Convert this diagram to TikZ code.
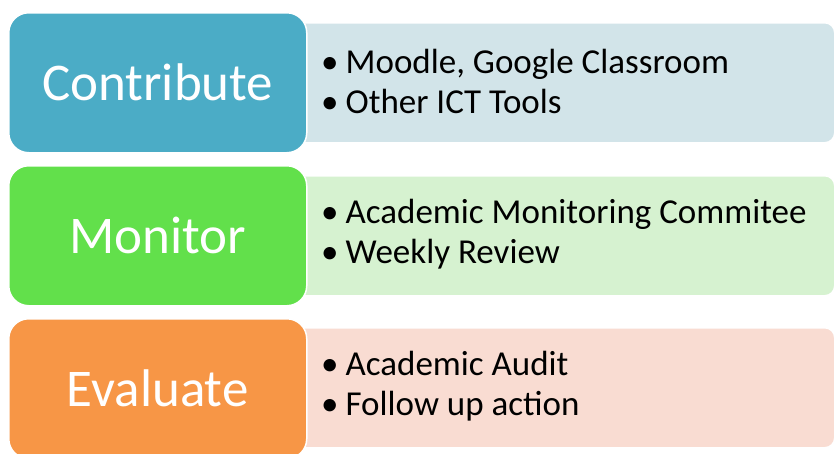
\documentclass[tikz,border=0pt]{standalone}
\usepackage{fontspec}
\setmainfont{Carlito}
\definecolor{cblue}{HTML}{4BACC6}
\definecolor{cgreen}{HTML}{62E04B}
\definecolor{corange}{HTML}{F79646}
\definecolor{lblue}{HTML}{D2E4E9}
\definecolor{lgreen}{HTML}{D6F2D0}
\definecolor{lorange}{HTML}{F9DCD2}
\begin{document}
\begin{tikzpicture}[x=1pt,y=-1pt,
  mainbox/.style={draw=white, line width=1.5pt, rounded corners=20pt, minimum width=298pt, minimum height=140pt, inner sep=0pt, anchor=north west, font=\fontsize{53}{53}\selectfont, text=white},
  listbox/.style={draw=white, line width=1.5pt, rounded corners=10pt, minimum width=556pt, minimum height=120pt, inner sep=0pt, anchor=north west},
  listtext/.style={anchor=west, align=left, inner sep=0pt, font=\fontsize{35}{40}\selectfont, text=black}]
\useasboundingbox (0,0) rectangle (836,453);
\fill[white] (0,0) rectangle (836,453);
% light boxes
\node[listbox, fill=lblue] (l1) at (278,22) {};
\node[listbox, fill=lgreen] (l2) at (278,175) {};
\node[listbox, fill=lorange] (l3) at (278,327) {};
% main boxes
\node[mainbox, fill=cblue] (m1) at (8,12) {Contribute};
\node[mainbox, fill=cgreen] (m2) at (8,165) {Monitor};
\node[mainbox, fill=corange] (m3) at (8,318) {Evaluate};
% texts
\node[listtext] (t1) at (321,81) {\textbullet\hspace{7pt}Moodle, Google Classroom\\\textbullet\hspace{7pt}Other ICT Tools};
\node[listtext] (t2) at (321,234) {\textbullet\hspace{7pt}Academic Monitoring Commitee\\\textbullet\hspace{7pt}Weekly Review};
\node[listtext] (t3) at (321,386) {\textbullet\hspace{7pt}Academic Audit\\\textbullet\hspace{7pt}Follow up action};
\end{tikzpicture}
\end{document}
